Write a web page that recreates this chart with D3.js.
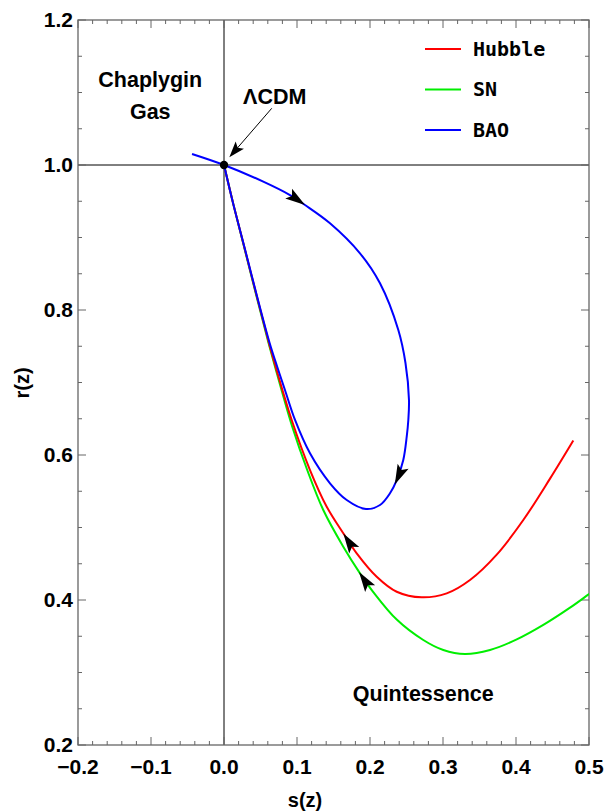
<!DOCTYPE html>
<html><head><meta charset="utf-8">
<script src="https://cdn.jsdelivr.net/npm/d3@7"></script>
<style>
html,body{margin:0;padding:0;background:#fff;}
text{font-family:"Liberation Sans",Arial,sans-serif;font-weight:bold;}
</style></head>
<body><svg id="c" width="605" height="811"></svg>
<script>
// ---- data ----
const xTicks = [-0.2,-0.1,0.0,0.1,0.2,0.3,0.4,0.5];
const yTicks = [0.2,0.4,0.6,0.8,1.0,1.2];
const seriesNames = ["Hubble","SN","BAO"];
const seriesColors = ["#ff0000","#00ee00","#0000ff"];
const hubble = [[0,1],[0.013,0.945],[0.0288,0.8828],[0.0452,0.8179],[0.0616,0.7545],[0.0708,0.7214],[0.0800,0.6897],[0.0927,0.6483],[0.1178,0.5793],[0.1407,0.5287],[0.1634,0.4920],[0.1818,0.4644],[0.2092,0.4321],[0.2366,0.4114],[0.2708,0.4037],[0.3051,0.4092],[0.3370,0.4276],[0.3736,0.4626],[0.4100,0.5103],[0.4466,0.5674],[0.4785,0.6200]];
const sn = [[0,1],[0.013,0.945],[0.0286,0.8828],[0.0448,0.8179],[0.0610,0.7545],[0.0700,0.7214],[0.0788,0.6897],[0.0935,0.6390],[0.1140,0.5793],[0.1360,0.5241],[0.1634,0.4735],[0.1863,0.4368],[0.2045,0.4110],[0.2366,0.3730],[0.2730,0.3448],[0.3004,0.3310],[0.3301,0.3255],[0.3644,0.3310],[0.4010,0.3456],[0.4374,0.3656],[0.4740,0.3894],[0.4990,0.4074],[0.5060,0.4124]];
const bao = [[-0.0438,1.0152],[0,1],[0.0538,0.9770],[0.0904,0.9585],[0.1110,0.9448],[0.1452,0.9196],[0.1863,0.8782],[0.2137,0.8368],[0.2388,0.7724],[0.2486,0.7269],[0.2534,0.6759],[0.2525,0.6483],[0.2503,0.6252],[0.2456,0.5931],[0.2366,0.5655],[0.2274,0.5472],[0.2137,0.5310],[0.1945,0.5255],[0.1681,0.5379],[0.1452,0.5610],[0.1178,0.6023],[0.0973,0.6483],[0.0835,0.6897],[0.0730,0.7214],[0.0625,0.7545],[0.0455,0.8179],[0.0290,0.8828],[0.013,0.945],[0,1]];
// arrow tips [s, r] and whether they point backwards along the data order
const arrows = [
  {series:2, at:[0.111,0.945], reverse:false},
  {series:2, at:[0.234,0.559], reverse:false},
  {series:0, at:[0.1634,0.492], reverse:true},
  {series:1, at:[0.184,0.438], reverse:true}
];
const labels = [
  {text:"Chaplygin", at:[-0.101,1.107]},
  {text:"Gas", at:[-0.101,1.063]},
  {text:"ΛCDM", at:[0.0695,1.084]},
  {text:"Quintessence", at:[0.273,0.261]}
];
const lcdmArrow = {from:[0.0654,1.0782], to:[0.0073,1.0106]};

// ---- layout ----
const L=78, R=589, T=20, B=745;
const x = d3.scaleLinear().domain([-0.2,0.5]).range([L,R]);
const y = d3.scaleLinear().domain([0.2,1.2]).range([B,T]);
const svg = d3.select("#c");

svg.append("defs").append("clipPath").attr("id","clip")
  .append("rect").attr("x",L).attr("y",T).attr("width",R-L).attr("height",B-T);

// zero lines
svg.append("line").attr("x1",x(0)).attr("x2",x(0)).attr("y1",T).attr("y2",B).attr("stroke","#000").attr("stroke-width",1);
svg.append("line").attr("x1",L).attr("x2",R).attr("y1",y(1)).attr("y2",y(1)).attr("stroke","#000").attr("stroke-width",1);

// frame & ticks
const frameCol="#666";
const g = svg.append("g");
g.append("rect").attr("x",L).attr("y",T).attr("width",R-L).attr("height",B-T).attr("fill","none").attr("stroke",frameCol).attr("stroke-width",1.3);
const xMinor = d3.range(-0.2,0.5001,0.02);
xMinor.forEach(v=>{
  const major = Math.abs(Math.round(v*10)-v*10)<1e-6;
  const len = major?8:4;
  g.append("line").attr("x1",x(v)).attr("x2",x(v)).attr("y1",B).attr("y2",B-len).attr("stroke",frameCol);
  g.append("line").attr("x1",x(v)).attr("x2",x(v)).attr("y1",T).attr("y2",T+len).attr("stroke",frameCol);
});
const yMinor = d3.range(0.2,1.2001,0.05);
yMinor.forEach(v=>{
  const major = Math.abs(Math.round(v*5)-v*5)<1e-6;
  const len = major?8:4;
  g.append("line").attr("x1",L).attr("x2",L+len).attr("y1",y(v)).attr("y2",y(v)).attr("stroke",frameCol);
  g.append("line").attr("x1",R).attr("x2",R-len).attr("y1",y(v)).attr("y2",y(v)).attr("stroke",frameCol);
});
const fmt = v => (v<0?"\u2212":"")+Math.abs(v).toFixed(1);
svg.selectAll(".xt").data(xTicks).enter().append("text")
  .attr("x",d=>x(d)).attr("y",B+29).attr("text-anchor","middle").attr("font-size",21).text(fmt);
svg.selectAll(".yt").data(yTicks).enter().append("text")
  .attr("x",L-5).attr("y",d=>y(d)+7).attr("text-anchor","end").attr("font-size",21).text(fmt);
svg.append("text").attr("x",305).attr("y",807).attr("text-anchor","middle").attr("font-size",20).text("s(z)");
svg.append("text").attr("transform","translate(29,383) rotate(-90)").attr("text-anchor","middle").attr("font-size",20).text("r(z)");

// curves
const line = d3.line().x(d=>x(d[0])).y(d=>y(d[1])).curve(d3.curveCatmullRom.alpha(0.5));
const datasets=[hubble,sn,bao];
const paths=[];
const cg = svg.append("g").attr("clip-path","url(#clip)");
[1,0,2].forEach(i=>{
  paths[i]=cg.append("path").attr("d",line(datasets[i])).attr("fill","none").attr("stroke",seriesColors[i]).attr("stroke-width",2);
});

// arrows
function head(tx,ty,dx,dy,len,w){
  const px=-dy, py=dx;
  const bx=tx-dx*len, by=ty-dy*len;
  const nx=tx-dx*len*0.8, ny=ty-dy*len*0.8;
  return `M${tx},${ty}L${bx+px*w},${by+py*w}L${nx},${ny}L${bx-px*w},${by-py*w}Z`;
}
arrows.forEach(a=>{
  const node=paths[a.series].node();
  const tot=node.getTotalLength();
  const tx=x(a.at[0]), ty=y(a.at[1]);
  let best=0,bd=1e9;
  for(let l=0;l<=tot;l+=0.5){const p=node.getPointAtLength(l);const d=(p.x-tx)**2+(p.y-ty)**2;if(d<bd){bd=d;best=l;}}
  const p0=node.getPointAtLength(Math.max(0,best-3)), p1=node.getPointAtLength(Math.min(tot,best+3));
  let dx=p1.x-p0.x, dy=p1.y-p0.y; const n=Math.hypot(dx,dy); dx/=n; dy/=n;
  if(a.reverse){dx=-dx;dy=-dy;}
  const tip=node.getPointAtLength(best);
  svg.append("path").attr("d",head(tip.x,tip.y,dx,dy,20,6)).attr("fill","#000");
});

// LCDM point and annotation arrow
svg.append("circle").attr("cx",x(0)).attr("cy",y(1)).attr("r",4.2).attr("fill","#000");
{
  const fx=x(lcdmArrow.from[0]), fy=y(lcdmArrow.from[1]), tx=x(lcdmArrow.to[0]), ty=y(lcdmArrow.to[1]);
  let dx=tx-fx, dy=ty-fy; const n=Math.hypot(dx,dy); dx/=n; dy/=n;
  svg.append("line").attr("x1",fx).attr("y1",fy).attr("x2",tx-dx*12).attr("y2",ty-dy*12).attr("stroke","#000").attr("stroke-width",1);
  svg.append("path").attr("d",head(tx,ty,dx,dy,16,5.5)).attr("fill","#000");
}

// text labels
svg.selectAll(".lab").data(labels).enter().append("text")
  .attr("x",d=>x(d.at[0])).attr("y",d=>y(d.at[1])).attr("text-anchor","middle").attr("font-size",21.5).text(d=>d.text);

// legend
const lg = svg.append("g");
seriesNames.forEach((nm,i)=>{
  const yy=49+i*40.5;
  lg.append("line").attr("x1",425).attr("x2",461).attr("y1",yy).attr("y2",yy).attr("stroke",seriesColors[i]).attr("stroke-width",2);
  lg.append("text").attr("x",473).attr("y",yy+6.5).attr("font-size",20).style("font-family","'DejaVu Sans Mono',monospace").text(nm);
});
</script></body></html>
